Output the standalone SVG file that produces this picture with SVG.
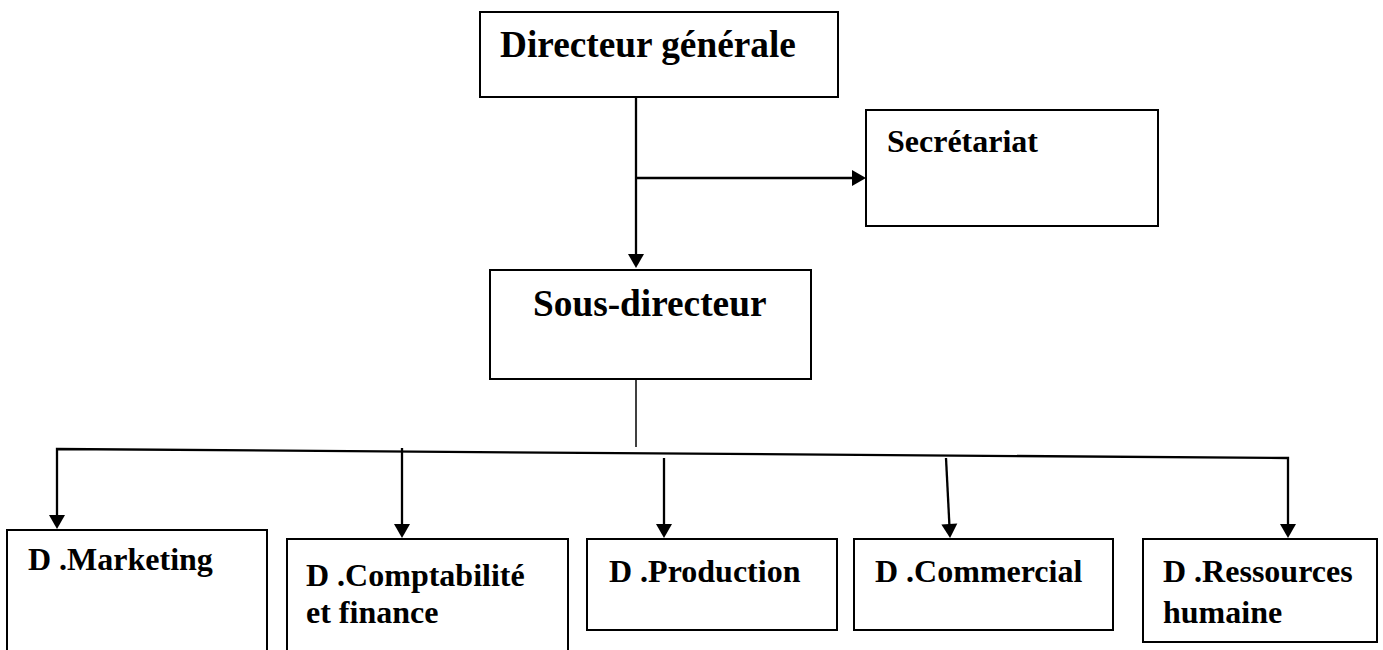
<svg xmlns="http://www.w3.org/2000/svg" width="1383" height="650" viewBox="0 0 1383 650">
  <style>
    .box { fill: #ffffff; stroke: #000000; stroke-width: 2; }
    .lbl { font-family: "Liberation Serif", "Times New Roman", serif; font-weight: bold; fill: #000000; }
    .big { font-size: 37.3px; }
    .small { font-size: 32px; }
    .link { fill: none; stroke: #000000; stroke-width: 2.3; }
    .thin { stroke-width: 1.5; }
    .arrow { marker-end: url(#head); }
  </style>
  <defs>
    <marker id="head" markerUnits="userSpaceOnUse" markerWidth="16" markerHeight="17" refX="1" refY="8" orient="auto-start-reverse" overflow="visible">
      <path d="M0,0 L14,8 L0,16 z" fill="#000000"/>
    </marker>
  </defs>

  <rect width="1383" height="650" fill="#ffffff"/>

  <!-- connectors -->
  <g id="connectors">
    <!-- Directeur -> Sous-directeur -->
    <line class="link arrow" x1="636" y1="97" x2="636" y2="255"/>
    <!-- branch -> Secrétariat -->
    <line class="link arrow" x1="636" y1="178" x2="853" y2="178"/>
    <!-- drop from Sous-directeur -->
    <line class="link thin" x1="636" y1="379" x2="636" y2="447"/>
    <!-- bus with outer drops (Marketing, Ressources humaine) -->
    <path class="link" d="M57,516 L57,449 L1288,458 L1288,525" marker-start="url(#head)" marker-end="url(#head)"/>
    <!-- inner drops -->
    <line class="link arrow" x1="402" y1="448" x2="402" y2="525"/>
    <line class="link arrow" x1="664" y1="458" x2="664" y2="525"/>
    <line class="link arrow" x1="946" y1="458" x2="949.4" y2="525"/>
  </g>

  <g id="directeur">
    <rect class="box" x="480" y="12" width="358" height="85"/>
    <text class="lbl big" x="500" y="57">Directeur générale</text>
  </g>

  <g id="secretariat">
    <rect class="box" x="866" y="110" width="292" height="116"/>
    <text class="lbl small" x="887" y="152">Secrétariat</text>
  </g>

  <g id="sous-directeur">
    <rect class="box" x="490" y="270" width="321" height="109"/>
    <text class="lbl big" x="533" y="316">Sous-directeur</text>
  </g>

  <g id="marketing">
    <rect class="box" x="7" y="530" width="260" height="130"/>
    <text class="lbl small" x="28" y="570">D .Marketing</text>
  </g>

  <g id="comptabilite">
    <rect class="box" x="287" y="539" width="281" height="120"/>
    <text class="lbl small" x="306" y="586">D .Comptabilité</text>
    <text class="lbl small" x="306" y="623">et finance</text>
  </g>

  <g id="production">
    <rect class="box" x="587" y="539" width="250" height="91"/>
    <text class="lbl small" x="609" y="582">D .Production</text>
  </g>

  <g id="commercial">
    <rect class="box" x="854" y="539" width="259" height="91"/>
    <text class="lbl small" x="875" y="582">D .Commercial</text>
  </g>

  <g id="ressources">
    <rect class="box" x="1143" y="539" width="234" height="103"/>
    <text class="lbl small" x="1163" y="582">D .Ressources</text>
    <text class="lbl small" x="1163" y="623">humaine</text>
  </g>
</svg>
